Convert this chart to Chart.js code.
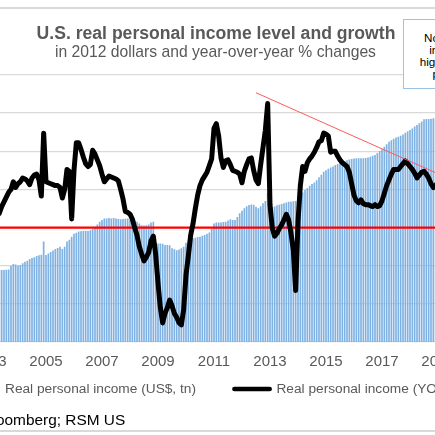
<!DOCTYPE html>
<html><head><meta charset="utf-8">
<script src="https://cdn.jsdelivr.net/npm/chart.js@4"></script>
<style>
html,body{margin:0;padding:0;background:#fff;}
#wrap{position:relative;width:435px;height:435px;overflow:hidden;background:#fff;font-family:"Liberation Sans",Arial,sans-serif;}
#c{position:absolute;left:-100px;top:0;}
.t{position:absolute;white-space:nowrap;line-height:1;}
#note{position:absolute;left:403px;top:19px;width:90px;height:70px;border:1px solid #9dc3e6;background:#fff;box-sizing:border-box;padding-top:11.6px;text-align:center;font-size:11.7px;line-height:12px;color:#000;}
</style></head><body>
<div id="wrap">
<div style="position:absolute;left:0;top:7px;width:435px;height:1.5px;background:#d9d9d9"></div>
<canvas id="c" width="800" height="436"></canvas>
<div class="t" style="left:0;width:432px;text-align:center;top:25.1px;font-size:17.6px;font-weight:bold;color:#595959">U.S. real personal income level and growth</div>
<div class="t" style="left:0;width:431px;text-align:center;top:44.2px;font-size:15.7px;color:#595959">in 2012 dollars and year-over-year % changes</div>
<div id="note">Note: red<br>income<br>highlighted<br>peaks</div>
<div class="t" style="left:-75px;top:412px;font-size:15.4px;color:#000">Source: Bloomberg; RSM US</div>
<div style="position:absolute;left:0;top:430px;width:435px;height:1.5px;background:#d9d9d9"></div>
</div>
<script>
// Real personal income, monthly from Jan 2003 (US$ tn, 2012 dollars)
const incomeLevel = [
11.30,11.32,11.33,11.35,11.36,11.36,11.36,11.37,11.38,11.50,11.56,11.54,
11.50,11.52,11.58,11.63,11.66,11.72,11.75,11.78,11.82,11.84,11.86,12.29,
11.85,11.90,11.95,12.00,12.05,12.08,12.12,12.05,12.12,12.29,12.35,12.45,
12.55,12.58,12.62,12.63,12.64,12.64,12.64,12.66,12.70,12.78,12.85,12.94,
13.00,13.05,13.05,13.06,13.05,13.06,13.05,13.03,13.02,13.03,13.04,13.05,
13.02,13.00,12.97,12.94,12.88,12.83,12.82,12.83,12.85,12.92,12.94,12.25,
12.23,12.23,12.22,12.18,12.18,12.17,12.07,12.04,12.01,12.03,12.07,12.12,
12.25,12.32,12.36,12.40,12.42,12.44,12.45,12.48,12.51,12.55,12.59,12.70,
12.88,12.92,12.92,12.92,12.93,12.94,12.98,13.02,13.00,13.00,13.10,13.22,
13.30,13.38,13.45,13.49,13.51,13.50,13.43,13.38,13.45,13.55,13.62,13.88,
13.33,13.42,13.44,13.48,13.50,13.52,13.55,13.57,13.60,13.60,13.61,13.62,
13.75,13.82,13.90,13.98,14.05,14.12,14.18,14.23,14.30,14.40,14.48,14.58,
14.63,14.68,14.72,14.75,14.80,14.83,14.87,14.91,14.93,14.96,14.98,15.00,
15.01,15.02,15.02,15.02,15.02,15.03,15.05,15.07,15.10,15.13,15.19,15.26,
15.32,15.40,15.48,15.56,15.61,15.66,15.70,15.73,15.76,15.80,15.86,15.91,
15.95,16.00,16.06,16.11,16.17,16.23,16.30,16.31,16.31,16.32,16.33,16.34,
16.36
];
// Real personal income, year-over-year % change
const incomeYoY = [
0.30,0.40,0.50,0.60,0.75,1.10,1.35,1.60,1.85,2.00,2.40,2.10,
2.30,2.40,2.60,2.55,2.45,2.25,2.60,2.75,2.80,2.50,1.65,4.95,
2.40,2.35,2.30,2.25,2.20,2.20,2.10,1.55,2.00,3.05,2.95,0.45,
3.00,4.45,4.45,4.10,3.70,3.35,3.20,3.30,4.05,3.85,3.55,3.25,
2.80,2.40,2.55,2.70,2.65,2.60,2.55,2.45,2.00,1.50,0.85,0.80,
0.70,0.45,0.00,-0.40,-1.00,-1.40,-1.75,-1.55,-1.30,-0.70,-0.45,-1.40,
-2.90,-4.20,-5.00,-4.50,-4.20,-3.80,-4.10,-4.50,-4.70,-5.00,-5.10,-4.30,
-2.50,-1.50,-0.40,0.20,1.00,1.70,2.20,2.50,2.70,2.90,3.25,3.60,
5.20,5.45,4.80,3.65,3.15,3.50,3.55,3.30,3.00,2.95,2.90,2.80,
2.35,2.95,3.30,3.60,3.65,3.00,2.50,2.30,3.30,4.20,5.10,6.50,
1.20,-0.05,-0.45,-0.30,-0.05,0.15,0.40,0.70,0.40,-0.30,-1.20,-3.30,
0.30,2.20,3.20,2.95,3.40,3.60,3.75,3.95,4.20,4.50,4.55,4.95,
4.90,4.80,3.95,4.00,4.00,3.75,3.55,3.40,3.30,3.20,2.90,2.30,
1.70,1.40,1.30,1.45,1.25,1.20,1.20,1.15,1.10,1.20,1.10,1.15,
1.40,1.80,2.20,2.50,2.80,3.05,3.05,3.05,3.20,3.35,3.50,3.35,
3.20,3.05,2.85,2.60,2.75,2.90,2.95,2.80,2.60,2.30,2.10,2.20,
2.40
];
const tickYears = ['2003','2005','2007','2009','2011','2013','2015','2017','2019'];
const startYear = 2003;
const trendStart = {index: 114, value: 7.07};
const trendEnd = {index: 192, value: 2.82};
const ZERO_LINE = 0;

const months = incomeLevel.map((_, i) => `${startYear + Math.floor(i / 12)}-${String(i % 12 + 1).padStart(2, '0')}`);
const trendData = months.map((_, i) => i === trendStart.index ? trendStart.value : (i === trendEnd.index ? trendEnd.value : null));

const zeroLinePlugin = {
  id: 'zeroLine',
  afterDatasetDraw(chart, args) {
    if (args.index !== 0) return;
    const y = chart.scales.y1.getPixelForValue(ZERO_LINE);
    const a = chart.chartArea, c = chart.ctx;
    c.save();
    c.strokeStyle = '#ff0000';
    c.lineWidth = 2.2;
    c.beginPath(); c.moveTo(a.left, y); c.lineTo(a.right, y); c.stroke();
    c.restore();
  }
};
// place the legend row just under the tick labels
const legendShiftPlugin = {
  id: 'legendShift',
  afterLayout(chart) {
    const lg = chart.legend;
    if (!lg) return;
    const top = chart.chartArea.bottom + 1.65;
    lg.bottom = top + lg.height;
    lg.top = top;
  }
};

Chart.defaults.font.family = '"Liberation Sans", Arial, sans-serif';
Chart.defaults.color = '#595959';

new Chart(document.getElementById('c'), {
  type: 'bar',
  data: {
    labels: months,
    datasets: [
      {label: 'Real personal income (US$, tn)', data: incomeLevel, yAxisID: 'y', backgroundColor: '#7fb2e3', borderWidth: 0, barPercentage: 0.72, categoryPercentage: 1, order: 3},
      {type: 'line', label: 'Real personal income (YOY, %)', data: incomeYoY, yAxisID: 'y1', borderColor: '#000', borderWidth: 5, borderJoinStyle: 'round', pointRadius: 0, order: 1},
      {type: 'line', label: 'trend', data: trendData, yAxisID: 'y1', borderColor: '#ff5a5a', borderWidth: 1, pointRadius: 0, spanGaps: true, order: 0}
    ]
  },
  options: {
    responsive: false,
    animation: false,
    layout: {padding: {left: 24.5, right: 0, top: 75, bottom: 1.8}},
    plugins: {
      legend: {
        position: 'bottom', align: 'start',
        labels: {
          usePointStyle: true, pointStyleWidth: 35.15, boxHeight: 8, padding: 38.5,
          font: {size: 13.7}, color: '#595959',
          generateLabels: chart => Chart.defaults.plugins.legend.labels.generateLabels(chart)
            .filter(item => item.datasetIndex < 2)
            .map(item => Object.assign(item, item.datasetIndex === 0
              ? {pointStyle: 'rect', lineWidth: 0}
              : {pointStyle: 'line', lineCap: 'round', lineWidth: 4.7, strokeStyle: '#000'})),
          sort: (a, b) => a.datasetIndex - b.datasetIndex
        }
      },
      tooltip: {enabled: false}
    },
    scales: {
      x: {
        grid: {display: false, drawTicks: false}, border: {display: false},
        ticks: {
          autoSkip: false, maxRotation: 0, minRotation: 0, padding: 11,
          font: {size: 15}, color: '#595959',
          callback: (v, i) => {
            const lab = months[i];
            return (lab.endsWith('-01') && tickYears.includes(lab.slice(0, 4))) ? lab.slice(0, 4) : '';
          }
        },
        afterFit: s => { s.height = 30; }
      },
      y: {
        position: 'left', min: 9, max: 17.75,
        grid: {display: false}, border: {display: false}, ticks: {display: false},
        afterFit: s => { s.width = 64.33; }
      },
      y1: {
        position: 'right', min: -6, max: 8,
        grid: {color: c => c.tick.value === ZERO_LINE ? 'rgba(0,0,0,0)' : '#d9d9d9', lineWidth: 1.3, drawTicks: false},
        border: {display: false},
        ticks: {display: false, stepSize: 2},
        afterFit: s => { s.width = 260.83; }
      }
    }
  },
  plugins: [zeroLinePlugin, legendShiftPlugin]
});
</script>
</body></html>
